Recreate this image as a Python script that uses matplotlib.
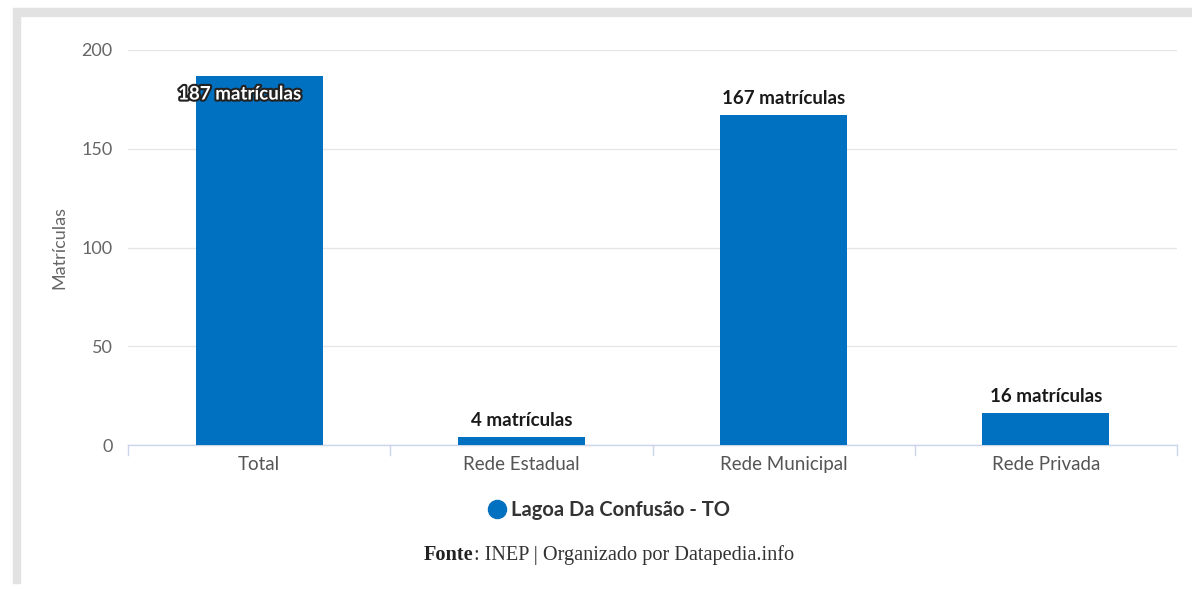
import matplotlib
matplotlib.use("Agg")
import matplotlib.pyplot as plt
from matplotlib.patches import Rectangle
from matplotlib.lines import Line2D
import matplotlib.patheffects as pe

categories = ["Total", "Rede Estadual", "Rede Municipal", "Rede Privada"]
values = [187, 4, 167, 16]
labels = ["187 matrículas", "4 matrículas", "167 matrículas", "16 matrículas"]
yticks = [0, 50, 100, 150, 200]
series_name = "Lagoa Da Confusão - TO"

W, H = 1192, 591
fig = plt.figure(figsize=(W / 100, H / 100), dpi=100)
fig.patch.set_facecolor("white")

def fx(x): return x / W
def fy(y): return 1 - y / H

# gray frame
fig.patches.append(Rectangle((fx(13), fy(16)), 1 - fx(13), fy(8) - fy(16),
                             transform=fig.transFigure, color="#e2e2e2", zorder=0))
fig.patches.append(Rectangle((fx(13), fy(583)), fx(20) - fx(13), fy(16) - fy(583),
                             transform=fig.transFigure, color="#e2e2e2", zorder=0))

ax = fig.add_axes([fx(128), fy(445), fx(1177) - fx(128), fy(50) - fy(445)])
ax.set_facecolor("white")
x = list(range(len(categories)))
bar_color = "#0070C0"
ax.bar(x, values, width=0.485, color=bar_color, zorder=3)
ax.set_xlim(-0.5, len(categories) - 0.5)
ax.set_ylim(0, 200)
ax.set_yticks(yticks)
ax.set_yticklabels([str(t) for t in yticks], fontsize=13, color="#666666", family="Lato")
ax.set_xticks(x)
ax.set_xticklabels(categories, fontsize=13.5, color="#555555", family="Lato")
ax.tick_params(axis="y", length=0, pad=11)
ax.tick_params(axis="x", length=0, pad=8)
for s in ["top", "right", "left"]:
    ax.spines[s].set_visible(False)
ax.spines["bottom"].set_color("#ccd6eb")
ax.spines["bottom"].set_linewidth(1)
ax.grid(axis="y", color="#e6e6e6", linewidth=1, zorder=0)
ax.set_axisbelow(True)
for b in [-0.5, 0.5, 1.5, 2.5, 3.5]:
    ax.plot([b, b], [0, -5], color="#ccd6eb", lw=1, clip_on=False, zorder=2)

ax.set_ylabel("Matrículas", fontsize=13, color="#666666", family="Lato", labelpad=10)

for i, (v, lab) in enumerate(zip(values, labels)):
    if v > 180:
        ax.annotate(lab, xy=(i, v - 5), xytext=(-14, 0), textcoords="offset points",
                    ha="center", va="top", fontsize=13.5, fontweight="bold",
                    color="white", family="Lato", zorder=5,
                    path_effects=[pe.withStroke(linewidth=3, foreground="#222222")])
    else:
        ax.text(i, v + 4, lab, ha="center", va="bottom", fontsize=13.5, fontweight="bold",
                color="#1a1a1a", family="Lato", zorder=5)

# legend
fig.add_artist(Line2D([fx(497)], [fy(509)], marker="o", markersize=13, color=bar_color,
                      linestyle="none", transform=fig.transFigure))
fig.text(fx(511), fy(510), series_name, ha="left", va="center", fontsize=14.5,
         fontweight="bold", color="#333333", family="Lato")

# source
t1 = fig.text(fx(424), fy(555), "Fonte", ha="left", va="center", fontsize=14.6,
              fontweight="bold", color="#222222", family="Liberation Serif")
fig.canvas.draw()
bb = t1.get_window_extent()
fig.text(bb.x1 / W, fy(555), ": INEP | Organizado por Datapedia.info", ha="left", va="center",
         fontsize=14.6, color="#333333", family="Liberation Serif")

fig.savefig("out.png", dpi=100, facecolor="white")
